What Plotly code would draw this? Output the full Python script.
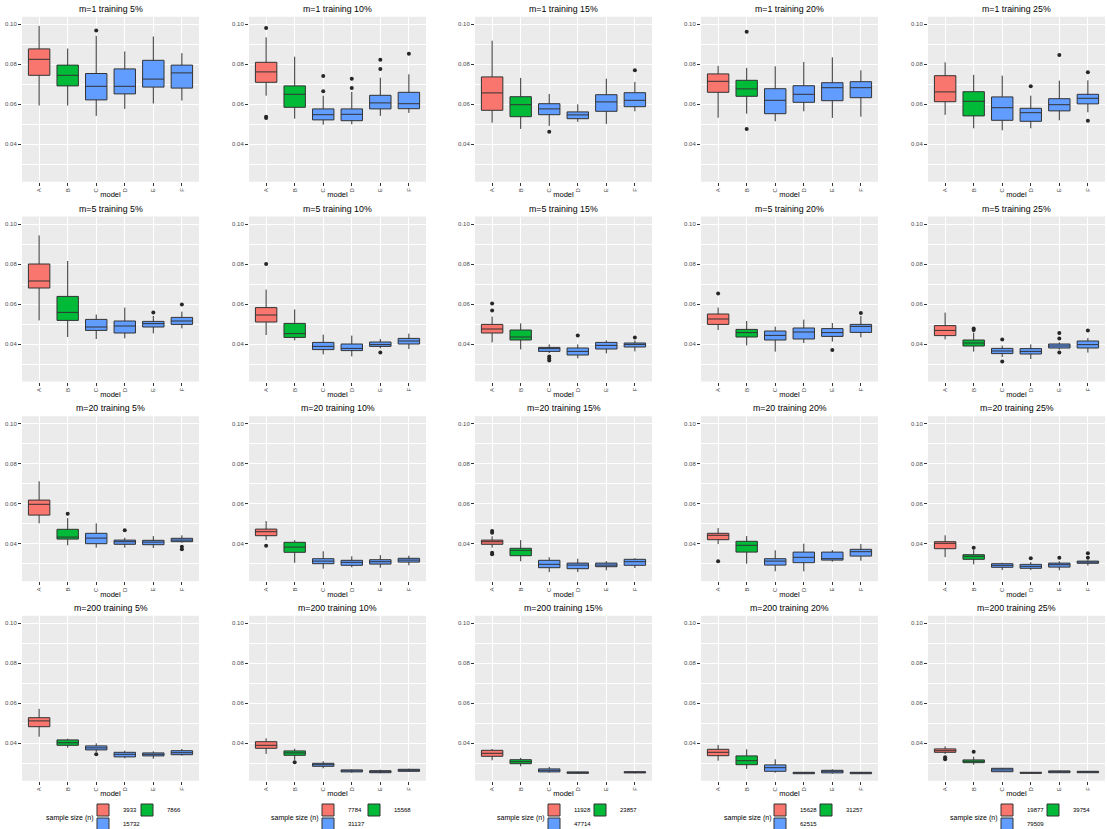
import plotly.graph_objects as go

W, H = 1107, 829

m_values = [1, 5, 20, 200]
train_pcts = [5, 10, 15, 20, 25]
models = ["A", "B", "C", "D", "E", "F"]
model_group = [0, 1, 2, 2, 2, 2]          # A -> n, B -> 2n, C..F -> 4n
group_colors = ["#F8766D", "#00BA38", "#619CFF"]
sample_sizes = [
    [3933, 7866, 15732],
    [7784, 15568, 31137],
    [11928, 23857, 47714],
    [15628, 31257, 62515],
    [19877, 39754, 79509],
]

# panels in row order: m=1 (5..25%), m=5, m=20, m=200 ; columns A..F
lower_whisker = [
    [.0594, .0594, .0542, .0577, .0604, .0619],
    [.0643, .0528, .0498, .0500, .0542, .0557],
    [.0508, .0477, .0492, .0512, .0502, .0565],
    [.0533, .0553, .0515, .0565, .0532, .0538],
    [.0547, .0480, .0470, .0480, .0520, .0560],
    [.0518, .0435, .0425, .0428, .0453, .0478],
    [.0445, .0418, .0348, .0338, .0378, .0375],
    [.0408, .0373, .0355, .0328, .0353, .0363],
    [.0470, .0393, .0362, .0405, .0412, .0433],
    [.0423, .0362, .0335, .0325, .0372, .0357],
    [.0502, .0392, .0380, .0380, .0378, .0405],
    [.0418, .0305, .0275, .0282, .0280, .0292],
    [.0380, .0312, .0258, .0258, .0267, .0278],
    [.0398, .0300, .0262, .0262, .0310, .0315],
    [.0333, .0297, .0268, .0268, .0267, .0290],
    [.0433, .0378, .0357, .0325, .0323, .0338],
    [.0347, .0317, .0275, .0253, .0250, .0257],
    [.0315, .0285, .0253, .0248, None, .0250],
    [.0313, .0272, .0253, .0248, .0248, .0247],
    [.0347, .0293, .0257, .0248, .0252, .0252],
]
q1 = [
    [.0745, .0692, .0622, .0652, .0686, .0681],
    [.0710, .0585, .0522, .0518, .0577, .0578],
    [.0570, .0538, .0548, .0528, .0565, .0588],
    [.0660, .0640, .0553, .0610, .0618, .0633],
    [.0613, .0542, .0520, .0515, .0567, .0602],
    [.0680, .0518, .0468, .0455, .0485, .0498],
    [.0510, .0433, .0372, .0367, .0388, .0400],
    [.0455, .0420, .0363, .0345, .0375, .0385],
    [.0498, .0435, .0420, .0425, .0438, .0458],
    [.0442, .0390, .0352, .0350, .0380, .0380],
    [.0543, .0423, .0400, .0397, .0395, .0410],
    [.0440, .0357, .0300, .0292, .0298, .0308],
    [.0397, .0340, .0280, .0275, .0285, .0292],
    [.0420, .0358, .0293, .0305, .0318, .0338],
    [.0375, .0322, .0282, .0277, .0283, .0302],
    [.0483, .0390, .0367, .0332, .0337, .0343],
    [.0375, .0340, .0285, .0257, .0253, .0260],
    [.0335, .0298, .0257, .0250, None, .0252],
    [.0338, .0293, .0260, .0248, .0252, .0248],
    [.0355, .0303, .0258, .0250, .0253, .0253],
]
median = [
    [.0825, .0745, .0690, .0690, .0726, .0757],
    [.0762, .0650, .0548, .0550, .0607, .0603],
    [.0657, .0598, .0577, .0547, .0612, .0620],
    [.0715, .0677, .0620, .0650, .0683, .0683],
    [.0662, .0615, .0583, .0558, .0598, .0630],
    [.0715, .0558, .0485, .0490, .0502, .0515],
    [.0545, .0452, .0388, .0378, .0397, .0415],
    [.0475, .0435, .0377, .0363, .0393, .0398],
    [.0525, .0457, .0443, .0460, .0457, .0488],
    [.0468, .0405, .0365, .0363, .0390, .0397],
    [.0597, .0433, .0428, .0410, .0408, .0418],
    [.0460, .0383, .0313, .0307, .0310, .0318],
    [.0410, .0367, .0297, .0293, .0293, .0310],
    [.0442, .0392, .0313, .0332, .0325, .0360],
    [.0402, .0337, .0292, .0287, .0295, .0308],
    [.0512, .0403, .0377, .0345, .0345, .0353],
    [.0390, .0352, .0293, .0262, .0258, .0265],
    [.0350, .0308, .0265, .0253, None, .0255],
    [.0355, .0313, .0278, .0252, .0260, .0252],
    [.0363, .0310, .0267, .0252, .0258, .0257],
]
q3 = [
    [.0877, .0796, .0754, .0777, .0820, .0796],
    [.0810, .0692, .0577, .0577, .0645, .0660],
    [.0737, .0638, .0603, .0562, .0648, .0658],
    [.0752, .0720, .0678, .0693, .0708, .0713],
    [.0743, .0663, .0637, .0580, .0628, .0650],
    [.0800, .0638, .0523, .0515, .0513, .0533],
    [.0582, .0503, .0408, .0400, .0410, .0428],
    [.0498, .0470, .0383, .0380, .0408, .0405],
    [.0550, .0473, .0465, .0480, .0477, .0498],
    [.0492, .0420, .0378, .0377, .0400, .0415],
    [.0618, .0472, .0452, .0418, .0417, .0427],
    [.0473, .0407, .0325, .0317, .0320, .0327],
    [.0418, .0377, .0317, .0303, .0303, .0322],
    [.0452, .0412, .0325, .0358, .0358, .0372],
    [.0410, .0345, .0300, .0297, .0303, .0313],
    [.0528, .0417, .0387, .0355, .0352, .0363],
    [.0408, .0362, .0300, .0267, .0263, .0270],
    [.0365, .0318, .0272, .0257, None, .0258],
    [.0370, .0337, .0292, .0255, .0265, .0255],
    [.0372, .0317, .0275, .0255, .0262, .0260],
]
upper_whisker = [
    [.0992, .0879, .0942, .0864, .0939, .0856],
    [.0935, .0838, .0643, .0662, .0733, .0750],
    [.0918, .0732, .0652, .0600, .0728, .0712],
    [.0792, .0782, .0790, .0812, .0835, .0770],
    [.0810, .0747, .0743, .0643, .0718, .0720],
    [.0943, .0815, .0547, .0582, .0540, .0562],
    [.0672, .0573, .0447, .0442, .0425, .0452],
    [.0537, .0503, .0398, .0398, .0418, .0418],
    [.0582, .0515, .0487, .0522, .0505, .0540],
    [.0557, .0457, .0392, .0398, .0408, .0430],
    [.0712, .0528, .0502, .0430, .0438, .0442],
    [.0513, .0418, .0362, .0337, .0343, .0340],
    [.0437, .0418, .0332, .0325, .0313, .0327],
    [.0478, .0438, .0367, .0400, .0368, .0398],
    [.0442, .0368, .0305, .0308, .0312, .0317],
    [.0572, .0423, .0400, .0363, .0360, .0372],
    [.0425, .0373, .0310, .0270, .0268, .0273],
    [.0372, .0327, .0282, .0258, None, .0260],
    [.0392, .0370, .0320, .0255, .0270, .0257],
    [.0385, .0333, .0277, .0257, .0263, .0262],
]
outliers = [
    {"C": [.0969]},
    {"A": [.0982, .0538, .0532], "C": [.0742, .0665], "D": [.0728, .0682], "E": [.0823, .0777], "F": [.0853]},
    {"C": [.0463], "F": [.0770]},
    {"B": [.0963, .0477]},
    {"D": [.0690], "E": [.0847], "F": [.0760, .0518]},
    {"E": [.0557], "F": [.0598]},
    {"A": [.0800], "E": [.0358]},
    {"A": [.0602, .0568], "C": [.0338, .0328, .0318], "D": [.0443], "F": [.0433]},
    {"A": [.0653], "E": [.0370], "F": [.0555]},
    {"B": [.0477, .0470], "C": [.0423, .0312], "E": [.0455, .0427, .0358], "F": [.0468]},
    {"B": [.0550], "D": [.0467], "F": [.0385, .0372]},
    {"A": [.0390]},
    {"A": [.0463, .0455, .0355, .0347]},
    {"A": [.0312]},
    {"B": [.0380], "D": [.0327], "E": [.0330], "F": [.0352, .0330]},
    {"C": [.0345]},
    {"B": [.0305]},
    {},
    {},
    {"A": [.0330, .0320], "B": [.0358]},
]

# ---- layout geometry (pixels) ----
col_left = [22, 249, 475, 701, 928]
plot_w = 177
row_top = [16.8, 216.5, 416.2, 615.8]
plot_h = 165
y_range = [0.02125, 0.10375]
# legend key centres (x, y) for the three sample sizes under each column
legend_key_x = [[102, 146, 102], [327, 373, 327], [553, 599, 553], [779, 825, 779], [1006, 1052, 1006]]
legend_key_y = [810, 810, 824]
legend_title_x = [44, 269, 495, 722, 948]

FONT = "Liberation Sans, Arial, sans-serif"


def legend_id(c, g):
    k = c * 3 + g + 1
    return "legend" if k == 1 else f"legend{k}"


fig = go.Figure()
layout_axes = {}
annotations = []

for p in range(20):
    r, c = divmod(p, 5)
    sfx = "" if p == 0 else str(p + 1)
    xr, yr = "x" + sfx, "y" + sfx
    for g in range(3):
        idx = [j for j in range(6) if model_group[j] == g and median[p][j] is not None]
        fig.add_trace(go.Box(
            x=[models[j] for j in idx],
            q1=[q1[p][j] for j in idx],
            median=[median[p][j] for j in idx],
            q3=[q3[p][j] for j in idx],
            lowerfence=[lower_whisker[p][j] for j in idx],
            upperfence=[upper_whisker[p][j] for j in idx],
            name=str(sample_sizes[c][g]),
            fillcolor=group_colors[g],
            line=dict(color="#333333", width=1),
            whiskerwidth=0, width=0.75, boxpoints=False,
            xaxis=xr, yaxis=yr,
            showlegend=(r == 3),
            legend=legend_id(c, g),
        ))
    ox, oy = [], []
    for mdl, vals in outliers[p].items():
        ox += [mdl] * len(vals)
        oy += vals
    if ox:
        fig.add_trace(go.Scatter(
            x=ox, y=oy, mode="markers",
            marker=dict(color="#262626", size=4),
            xaxis=xr, yaxis=yr, showlegend=False,
        ))

    x0, x1 = col_left[c], col_left[c] + plot_w
    y0, y1 = row_top[r], row_top[r] + plot_h
    layout_axes["xaxis" + sfx] = dict(
        domain=[x0 / W, x1 / W], anchor=yr,
        type="category", categoryorder="array", categoryarray=models,
        range=[-0.6, 5.6], tickangle=-90,
        ticks="outside", ticklen=3, tickwidth=1, tickcolor="#333333",
        tickfont=dict(size=6, color="#4D4D4D", family=FONT),
        showgrid=True, gridcolor="white", gridwidth=1.1,
        zeroline=False, showline=False,
        title=dict(text="model", font=dict(size=7.5, color="black", family=FONT), standoff=0),
    )
    layout_axes["yaxis" + sfx] = dict(
        domain=[1 - y1 / H, 1 - y0 / H], anchor=xr,
        range=y_range, tickmode="array", tickvals=[0.04, 0.06, 0.08, 0.10],
        tickformat=".2f",
        ticks="outside", ticklen=3, tickwidth=1, tickcolor="#333333",
        tickfont=dict(size=6, color="#4D4D4D", family=FONT),
        showgrid=True, gridcolor="white", gridwidth=1.1,
        minor=dict(tickvals=[0.03, 0.05, 0.07, 0.09], showgrid=True,
                   gridcolor="white", gridwidth=0.6, ticks=""),
        zeroline=False, showline=False,
    )
    annotations.append(dict(
        text=f"m={m_values[r]} training {train_pcts[c]}%",
        xref="paper", yref="paper", x=(x0 + x1) / 2 / W, y=1 - (y0 - 7.8) / H,
        xanchor="center", yanchor="middle", showarrow=False,
        font=dict(size=8.8, color="black", family=FONT),
    ))

legends = {}
for c in range(5):
    for g in range(3):
        legends[legend_id(c, g)] = dict(
            orientation="h", xanchor="left", yanchor="middle",
            x=(legend_key_x[c][g] - 19) / W, y=1 - legend_key_y[g] / H,
            bgcolor="rgba(0,0,0,0)", borderwidth=0,
            font=dict(size=6, color="black", family=FONT),
            itemwidth=30, tracegroupgap=0,
        )
    annotations.append(dict(
        text="sample size (n)", xref="paper", yref="paper",
        x=legend_title_x[c] / W, y=1 - 817.7 / H, xanchor="left", yanchor="middle",
        showarrow=False, font=dict(size=7.0, color="black", family=FONT),
    ))

fig.update_layout(
    width=W, height=H,
    margin=dict(l=0, r=0, t=0, b=0, autoexpand=False),
    paper_bgcolor="white", plot_bgcolor="#EBEBEB",
    boxmode="overlay", annotations=annotations,
    font=dict(family=FONT),
    **layout_axes, **legends,
)

page_fix = (
    "document.body.style.margin='0px';"
    "document.body.style.overflow='hidden';"
)

fig.write_html(
    "out.html",
    config={"displayModeBar": False},
    post_script=page_fix,
)
